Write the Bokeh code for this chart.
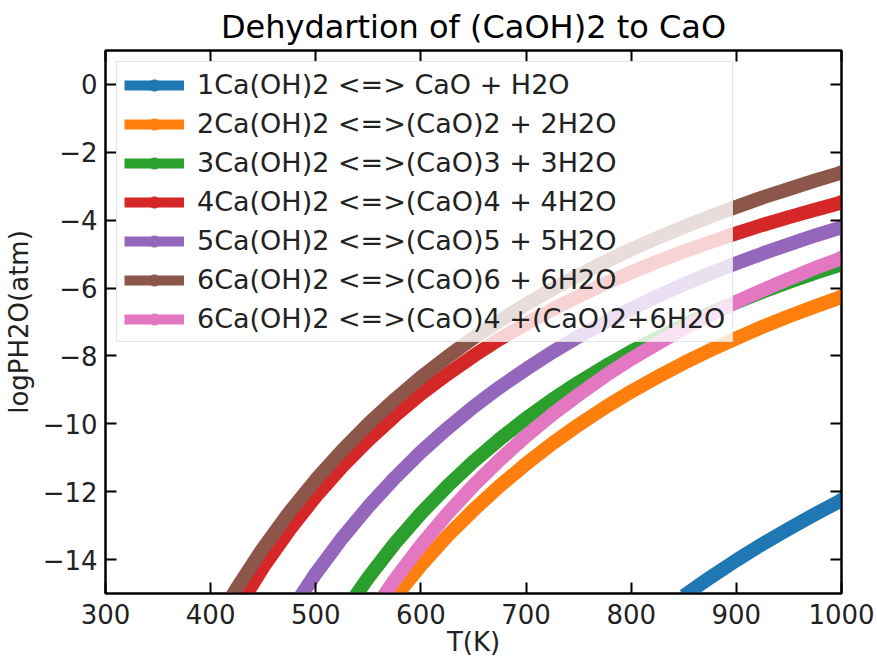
from bokeh.plotting import figure
from bokeh.models import (Range1d, FixedTicker, LinearAxis, Legend, LegendItem,
                          ColumnDataSource, CDSView, IndexFilter)
from bokeh.embed import file_html
from bokeh.resources import INLINE

# ---------------- data ----------------
title_text = "Dehydartion of (CaOH)2 to CaO"
x_label = "T(K)"
y_label = "logPH2O(atm)"

series_labels = [
    "1Ca(OH)2 <=> CaO + H2O",
    "2Ca(OH)2 <=>(CaO)2 + 2H2O",
    "3Ca(OH)2 <=>(CaO)3 + 3H2O",
    "4Ca(OH)2 <=>(CaO)4 + 4H2O",
    "5Ca(OH)2 <=>(CaO)5 + 5H2O",
    "6Ca(OH)2 <=>(CaO)6 + 6H2O",
    "6Ca(OH)2 <=>(CaO)4 +(CaO)2+6H2O",
]
series_colors = ["#1f77b4", "#ff7f0e", "#2ca02c", "#d62728",
                 "#9467bd", "#8c564b", "#e377c2"]

t_1 = [850, 875, 900, 925, 950, 975, 1000]
logp_1 = [-15.07, -14.53, -14.02, -13.54, -13.09, -12.66, -12.25]

t_2 = [575, 600, 625, 650, 675, 700, 725, 750, 775, 800, 825, 850, 875,
       900, 925, 950, 975, 1000]
logp_2 = [-15.12, -14.17, -13.31, -12.54, -11.83, -11.18, -10.58, -10.03,
          -9.52, -9.05, -8.62, -8.21, -7.83, -7.48, -7.14, -6.83, -6.54,
          -6.26]

t_3 = [525, 550, 575, 600, 625, 650, 675, 700, 725, 750, 775, 800, 825,
       850, 875, 900, 925, 950, 975, 1000]
logp_3 = [-15.64, -14.53, -13.53, -12.64, -11.84, -11.11, -10.45, -9.84,
          -9.29, -8.78, -8.31, -7.87, -7.47, -7.09, -6.74, -6.42, -6.11,
          -5.82, -5.55, -5.30]

t_4 = [425, 450, 475, 500, 525, 550, 575, 600, 625, 650, 675, 700, 725,
       750, 775, 800, 825, 850, 875, 900, 925, 950, 975, 1000]
logp_4 = [-15.47, -14.22, -13.12, -12.14, -11.26, -10.48, -9.77, -9.12,
          -8.54, -8.00, -7.50, -7.05, -6.63, -6.24, -5.87, -5.54, -5.22,
          -4.92, -4.65, -4.39, -4.14, -3.91, -3.69, -3.48]

t_5 = [475, 500, 525, 550, 575, 600, 625, 650, 675, 700, 725, 750, 775,
       800, 825, 850, 875, 900, 925, 950, 975, 1000]
logp_5 = [-15.58, -14.41, -13.37, -12.44, -11.60, -10.83, -10.14, -9.50,
          -8.92, -8.39, -7.89, -7.43, -7.01, -6.61, -6.24, -5.89, -5.57,
          -5.27, -4.98, -4.71, -4.45, -4.21]

t_6 = [410, 425, 450, 475, 500, 525, 550, 575, 600, 625, 650, 675, 700,
       725, 750, 775, 800, 825, 850, 875, 900, 925, 950, 975, 1000]
logp_6 = [-15.62, -14.84, -13.66, -12.60, -11.65, -10.79, -10.00, -9.29,
          -8.63, -8.03, -7.47, -6.96, -6.48, -6.03, -5.62, -5.23, -4.86,
          -4.52, -4.20, -3.89, -3.61, -3.33, -3.08, -2.83, -2.60]

t_7 = [550, 575, 600, 625, 650, 675, 700, 725, 750, 775, 800, 825, 850,
       875, 900, 925, 950, 975, 1000]
logp_7 = [-15.74, -14.60, -13.58, -12.66, -11.82, -11.06, -10.36, -9.72,
          -9.14, -8.59, -8.09, -7.63, -7.19, -6.79, -6.41, -6.06, -5.73,
          -5.41, -5.12]

x_ticks = [300, 400, 500, 600, 700, 800, 900, 1000]
x_tick_labels = ["300", "400", "500", "600", "700", "800", "900", "1000"]
y_ticks = [-14, -12, -10, -8, -6, -4, -2, 0]
y_tick_labels = ["\u221214", "\u221212", "\u221210", "\u22128", "\u22126",
                 "\u22124", "\u22122", "0"]

series_t = [t_1, t_2, t_3, t_4, t_5, t_6, t_7]
series_logp = [logp_1, logp_2, logp_3, logp_4, logp_5, logp_6, logp_7]

# ---------------- figure ----------------
FONT = "DejaVu Sans"

p = figure(width=877, height=659,
           x_range=Range1d(300, 1000), y_range=Range1d(-15, 1),
           output_backend="svg", toolbar_location=None,
           min_border_left=104, min_border_right=36,
           min_border_top=47, min_border_bottom=65,
           background_fill_color="white", border_fill_color="white")

p.title.text = title_text
p.title.align = "center"
p.title.text_font = FONT
p.title.text_font_size = "32px"
p.title.text_font_style = "normal"
p.title.text_color = "black"
p.title.standoff = 10

p.grid.visible = False
p.outline_line_color = "black"
p.outline_line_width = 2

# bottom / left axes
xa = p.xaxis[0]
ya = p.yaxis[0]
xa.ticker = FixedTicker(ticks=x_ticks)
ya.ticker = FixedTicker(ticks=y_ticks)
xa.major_label_overrides = dict(zip(x_ticks, x_tick_labels))
ya.major_label_overrides = dict(zip(y_ticks, y_tick_labels))
xa.axis_label = x_label
ya.axis_label = y_label
for ax in (xa, ya):
    ax.major_tick_in = 11
    ax.major_tick_out = 0
    ax.major_tick_line_width = 2
    ax.major_tick_line_color = "black"
    ax.minor_tick_line_color = None
    ax.axis_line_width = 2
    ax.axis_line_color = "black"
    ax.major_label_text_font = FONT
    ax.major_label_text_font_size = "26px"
    ax.major_label_text_color = "#222222"
    ax.axis_label_text_font = FONT
    ax.axis_label_text_font_size = "26px"
    ax.axis_label_text_font_style = "normal"
    ax.axis_label_text_color = "#222222"
xa.major_label_standoff = 10
xa.axis_label_standoff = 0
ya.major_label_standoff = 8
ya.axis_label_standoff = 6

# top / right axes: ticks only
top_ax = LinearAxis(ticker=FixedTicker(ticks=x_ticks))
right_ax = LinearAxis(ticker=FixedTicker(ticks=y_ticks))
for ax in (top_ax, right_ax):
    ax.major_tick_in = 11
    ax.major_tick_out = 0
    ax.major_tick_line_width = 2
    ax.major_tick_line_color = "black"
    ax.minor_tick_line_color = None
    ax.axis_line_width = 2
    ax.axis_line_color = "black"
    ax.major_label_text_font_size = "0px"
    ax.major_label_text_alpha = 0
    ax.major_label_standoff = 0
p.add_layout(top_ax, "above")
p.add_layout(right_ax, "right")

# ---------------- curves ----------------
items = []
for lab, col, ts, ys in zip(series_labels, series_colors, series_t, series_logp):
    src = ColumnDataSource(dict(t=ts, logp=ys))
    # thick body of the curve (dense markers in the original)
    p.line("t", "logp", source=src, line_color=col, line_width=14,
           line_join="round")
    # the line itself, as shown in the legend
    r_line = p.line("t", "logp", source=src, line_color=col, line_width=10,
                    line_join="round")
    # marker renderer (only the last sample point) so the legend shows line + dot
    r_mark = p.scatter("t", "logp", source=src,
                       view=CDSView(filter=IndexFilter([len(ts) - 1])),
                       marker="circle", size=14,
                       fill_color=col, line_color=col)
    items.append(LegendItem(label=lab, renderers=[r_line, r_mark]))

legend = Legend(items=items, location="top_left")
legend.margin = 11
legend.padding = 7
legend.spacing = 8
legend.glyph_width = 60
legend.glyph_height = 28
legend.label_height = 28
legend.label_standoff = 13
legend.label_text_font = FONT
legend.label_text_font_size = "27px"
legend.label_text_color = "#222222"
legend.background_fill_color = "white"
legend.background_fill_alpha = 0.8
legend.border_line_color = "#cccccc"
legend.border_line_width = 1.5
p.add_layout(legend)

open("out.html", "w").write(file_html(p, INLINE))
